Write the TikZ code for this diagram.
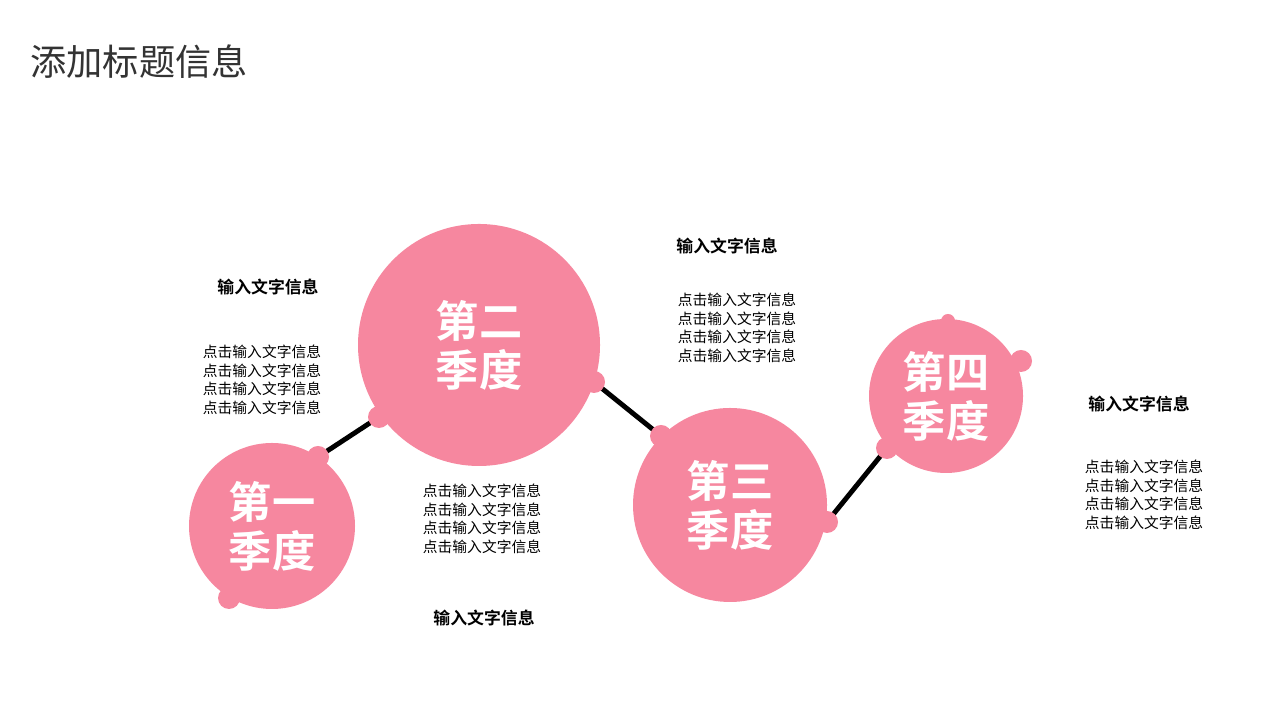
\documentclass[tikz,border=0pt]{standalone}
\usepackage{fontspec}
\setmainfont{Noto Sans CJK SC}[BoldFont={Noto Sans CJK SC Bold}]
\usetikzlibrary{arrows.meta}
\definecolor{rose}{HTML}{F6879F}
\definecolor{titlegray}{HTML}{333333}
\tikzset{
  ball/.style={circle,fill=rose,draw=none,inner sep=0pt},
  quarter/.style={text=white,font=\fontsize{12.3pt}{14pt}\selectfont\bfseries,align=center},
  head/.style={font=\fontsize{4.8pt}{6pt}\selectfont\bfseries},
  body/.style={font=\fontsize{4.2pt}{5.25pt}\selectfont,align=center}
}
\newcommand{\bodytext}{点击输入文字信息\\点击输入文字信息\\点击输入文字信息\\点击输入文字信息}
\begin{document}
\begin{tikzpicture}
            \useasboundingbox (0,0) rectangle (12.8,7.2);
            \node[anchor=west,text=titlegray,font=\fontsize{10.3pt}{12pt}\selectfont] (title) at (0.18,6.58) {添加标题信息};

            % connectors
            \coordinate (d1a) at (3.18,2.63);
            \coordinate (d1b) at (2.29,1.22);
            \coordinate (d2a) at (3.79,3.03);
            \coordinate (d2b) at (5.94,3.38);
            \coordinate (d3a) at (6.61,2.84);
            \coordinate (d3b) at (8.27,1.98);
            \coordinate (d4a) at (8.87,2.72);
            \coordinate (d4b) at (10.21,3.59);
            \coordinate (d4c) at (9.48,3.99);
            \draw[line width=1.4pt] (d1a) -- (d2a);
            \draw[line width=1.4pt] (d2b) -- (d3a);
            \draw[line width=1.4pt] (d3b) -- (d4a);

            % circles
            \node[ball,minimum size=1.66cm] (q1) at (2.72,1.94) {};
            \node[ball,minimum size=2.42cm] (q2) at (4.79,3.75) {};
            \node[ball,minimum size=1.94cm] (q3) at (7.30,2.15) {};
            \node[ball,minimum size=1.54cm] (q4) at (9.46,3.24) {};
            \foreach \d in {d1a,d1b,d2a,d2b,d3a,d3b,d4a,d4b}
                \fill[rose] (\d) circle (0.11);
            \fill[rose] (d4c) circle (0.07);

            \node[quarter] (t1) at (q1) {第一\\季度};
            \node[quarter] (t2) at (q2) {第二\\季度};
            \node[quarter] (t3) at (q3) {第三\\季度};
            \node[quarter] (t4) at (q4) {第四\\季度};

            % labels
            \node[head] (h1) at (2.68,4.33) {输入文字信息};
            \node[body] (b1) at (2.62,3.40) {\bodytext};
            \node[body] (b2) at (4.82,2.01) {\bodytext};
            \node[head] (h2) at (4.84,1.02) {输入文字信息};
            \node[head] (h3) at (7.27,4.74) {输入文字信息};
            \node[body] (b3) at (7.37,3.92) {\bodytext};
            \node[head] (h4) at (11.39,3.16) {输入文字信息};
            \node[body] (b4) at (11.44,2.25) {\bodytext};
        \end{tikzpicture}
\end{document}
